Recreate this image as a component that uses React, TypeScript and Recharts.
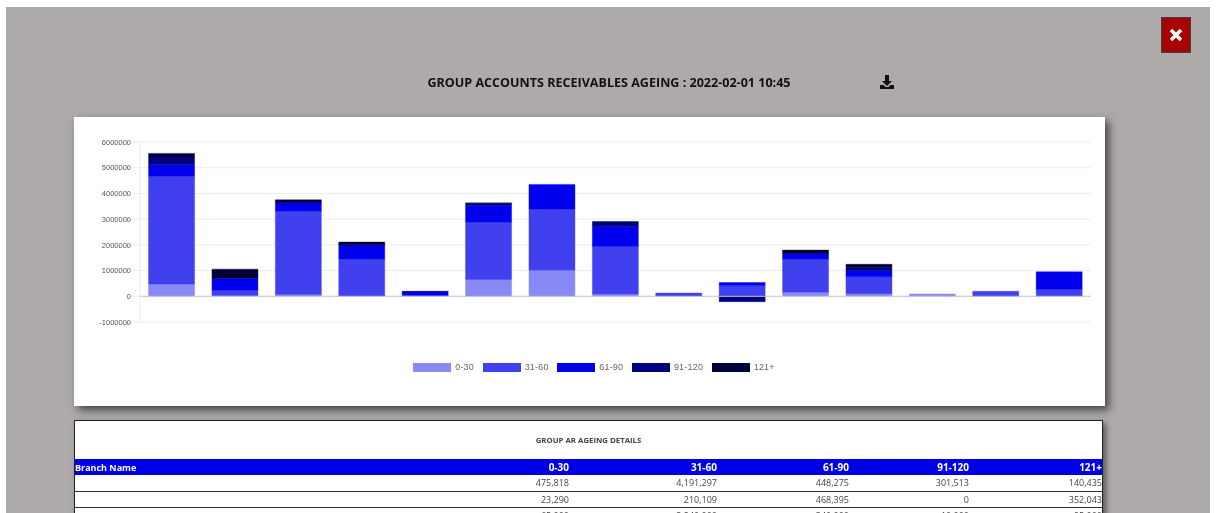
import React from "react";
import { Bar, BarChart, CartesianGrid, Legend, ReferenceLine, XAxis, YAxis } from "recharts";

// branch names are blank in the picture, so the ids only key the bands
const branches = ["1", "2", "3", "4", "5", "6", "7", "8", "9", "10", "11", "12", "13", "14", "15"];
const days0to30 = [475818, 23290, 65000, 15000, 0, 650000, 1016000, 90000, 15000, 10000, 156000, 100000, 90000, 5000, 0];
const days31to60 = [4191297, 210109, 3240000, 1430000, 40000, 2230000, 2370000, 1850000, 110000, 407000, 1290000, 655000, 0, 190000, 270000];
const days61to90 = [448275, 468395, 340000, 545000, 145000, 650000, 965000, 780000, 0, 117000, 210000, 245000, 0, 0, 680000];
const days91to120 = [301513, 0, 10000, 10000, 10000, 90000, 0, 170000, 0, -210000, 20000, 115000, 0, 0, 0];
const days121plus = [140435, 352043, 95000, 110000, 0, 10000, 0, 10000, 0, 0, 120000, 130000, 0, 0, 0];

const yTicks = [-1000000, 0, 1000000, 2000000, 3000000, 4000000, 5000000, 6000000];
const seriesNames = ["0-30", "31-60", "61-90", "91-120", "121+"];
const seriesValues = [days0to30, days31to60, days61to90, days91to120, days121plus];
const seriesColors = ["#8888f6", "#4040ee", "#0000ee", "#000080", "#000038"];

const chartData = branches.map((branch, i) => {
  const row: Record<string, string | number> = { branch };
  seriesNames.forEach((name, s) => {
    row[name] = seriesValues[s][i];
  });
  return row;
});

function ChartLegend() {
  return (
    <div style={{ display: "flex", justifyContent: "center", paddingTop: 40, paddingLeft: 23, fontFamily: "'Liberation Sans', sans-serif", fontSize: 9, color: "#666" }}>
      {seriesNames.map((name, i) => (
        <div key={name} style={{ display: "flex", alignItems: "center", marginRight: i < 4 ? 8.6 : 0 }}>
          <span style={{ display: "inline-block", width: 38, height: 9, background: seriesColors[i], marginRight: 4 }} />
          <span style={{ letterSpacing: 0.2 }}>{name}</span>
        </div>
      ))}
    </div>
  );
}

const columnWidths = [350, 146, 148, 132, 120, 131];
const cellFont = "'Open Sans', sans-serif";

function DetailsTable() {
  return (
    <div style={{ position: "absolute", left: 74, top: 420, width: 1029, height: 200, background: "#fff", border: "1px solid #222", boxSizing: "border-box", boxShadow: "3px 3px 6px #555", fontFamily: cellFont }}>
      <div style={{ height: 38, lineHeight: "38px", textAlign: "center", fontSize: 7.8, fontWeight: 700, color: "#444" }}>
        GROUP AR AGEING DETAILS
      </div>
      <table style={{ borderCollapse: "collapse", tableLayout: "fixed", width: 1027 }}>
        <colgroup>
          {columnWidths.map((w, i) => (
            <col key={i} style={{ width: w }} />
          ))}
        </colgroup>
        <thead>
          <tr style={{ background: "#0000e6", color: "#fff", height: 16, fontSize: 10, fontWeight: 700 }}>
            <th style={{ textAlign: "left", padding: 0, fontSize: 9 }}>Branch Name</th>
            {seriesNames.map((name, s) => (
              <th key={name} style={{ textAlign: "right", padding: s === 4 ? 0 : "0 2px 0 0" }}>{name}</th>
            ))}
          </tr>
        </thead>
        <tbody>
          {[0, 1, 2].map((r) => (
            <tr key={r} style={{ height: 16, fontSize: 9, color: "#444", borderBottom: "1px solid #333" }}>
              <td />
              {seriesValues.map((values, s) => (
                <td key={s} style={{ textAlign: "right", padding: s === 4 ? 0 : "0 2px 0 0" }}>{values[r].toLocaleString("en-US")}</td>
              ))}
            </tr>
          ))}
        </tbody>
      </table>
    </div>
  );
}

export default function App() {
  return (
    <div style={{ position: "absolute", left: 0, top: 0, width: 1216, height: 513, overflow: "hidden", background: "#fff", filter: "blur(0.35px)" }}>
      <div style={{ position: "absolute", left: 6, top: 7, width: 1204, height: 506, background: "#aeaaa9" }} />

      <div style={{ position: "absolute", left: 300, width: 618, top: 74, textAlign: "center", fontFamily: cellFont, fontWeight: 700, fontSize: 12.55, lineHeight: "17px", color: "#111" }}>
        GROUP ACCOUNTS RECEIVABLES AGEING : 2022-02-01 10:45
      </div>

      <svg style={{ position: "absolute", left: 879, top: 74 }} width={16} height={16} viewBox="0 0 16 16">
        <path d="M6 1h4v6h3l-5 5-5-5h3z" fill="#111" />
        <path d="M1 11h3.5l2 2h3l2-2H15v4H1z" fill="#111" />
      </svg>

      <svg style={{ position: "absolute", left: 1161, top: 17 }} width={30} height={36} viewBox="0 0 30 36">
        <rect x={0.75} y={0.75} width={28.5} height={34.5} fill="#a80000" stroke="#5a3030" strokeWidth={1.5} />
        <path d="M10 13l10 10M20 13L10 23" stroke="#fff" strokeWidth={3.6} />
      </svg>

      <div style={{ position: "absolute", left: 74, top: 117, width: 1031, height: 289, background: "#fff", boxShadow: "4px 4px 8px #444" }}>
        <BarChart
          width={1031}
          height={289}
          data={chartData}
          stackOffset="sign"
          barCategoryGap="13.5%"
          margin={{ top: 25, right: 14, bottom: 0, left: 0 }}
        >
          <CartesianGrid vertical={false} stroke="#ececf0" />
          <XAxis dataKey="branch" hide />
          <YAxis
            width={66}
            domain={[-1000000, 6000000]}
            ticks={yTicks}
            interval={0}
            tick={{ fontSize: 7.5, fill: "#555", fontFamily: "'Liberation Sans', sans-serif" }}
            tickLine={{ stroke: "#ececf0" }}
            axisLine={{ stroke: "#ececf0" }}
            tickSize={7}
            tickMargin={2}
          />
          <ReferenceLine y={0} stroke="#c8c8d0" />
          {seriesNames.map((name, i) => (
            <Bar key={name} dataKey={name} stackId="ageing" fill={seriesColors[i]} stroke={seriesColors[i]} strokeWidth={0.4} isAnimationActive={false} />
          ))}
          <Legend verticalAlign="bottom" height={84} content={<ChartLegend />} />
        </BarChart>
      </div>

      <DetailsTable />
    </div>
  );
}
